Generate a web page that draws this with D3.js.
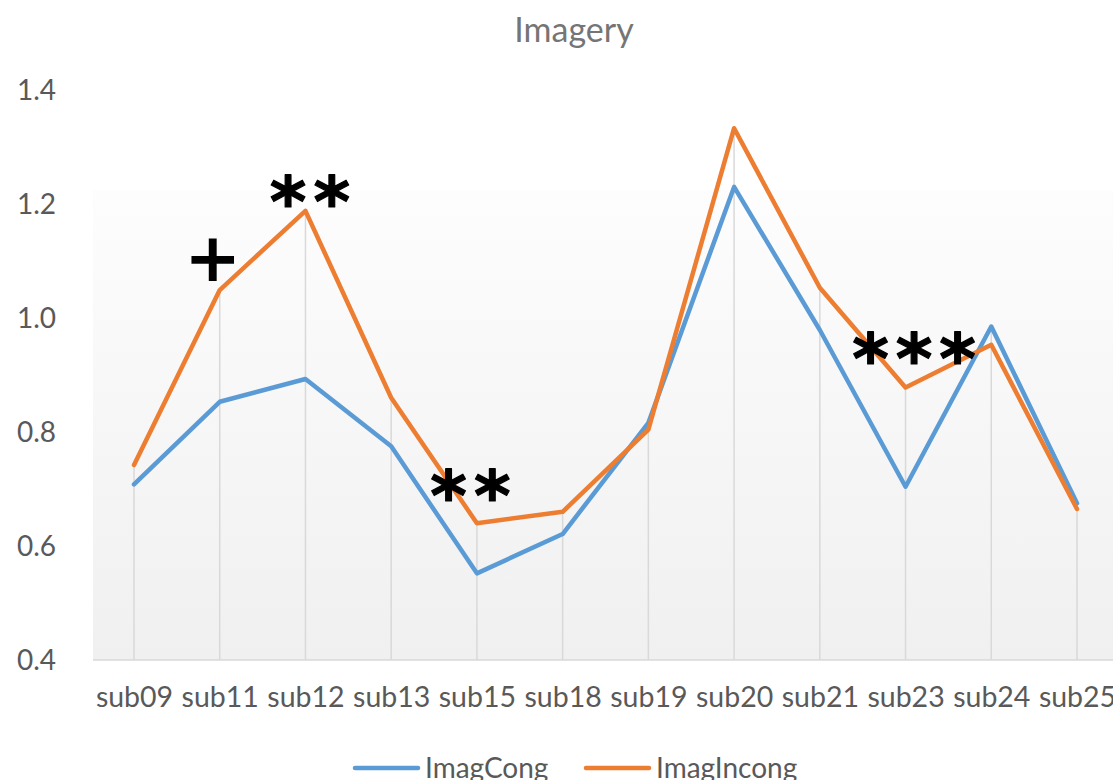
<!DOCTYPE html>
<html><head><meta charset="utf-8">
<script src="https://cdn.jsdelivr.net/npm/d3@7"></script>
<style>html,body{margin:0;padding:0;background:#fff;}svg{display:block;}</style>
</head><body>
<svg id="chart" width="1113" height="780"></svg>
<script>
const categories = ["sub09","sub11","sub12","sub13","sub15","sub18","sub19","sub20","sub21","sub23","sub24","sub25"];
const imagCong   = [0.708,0.853,0.893,0.775,0.552,0.621,0.816,1.230,0.979,0.704,0.985,0.675];
const imagIncong = [0.742,1.049,1.188,0.860,0.640,0.660,0.804,1.333,1.053,0.878,0.953,0.665];
const yTicks = [0.4,0.6,0.8,1.0,1.2,1.4];
const seriesNames = ["ImagCong","ImagIncong"];
const seriesColors = ["#5b9bd5","#ed7d31"];
const annotations = [
  {cat:"sub11", value:1.107, text:"+", dx:-7},
  {cat:"sub12", value:1.223, text:"**", dx:8},
  {cat:"sub15", value:0.707, text:"**", dx:-3},
  {cat:"sub23", value:0.947, text:"***", dx:12}
];

const svg = d3.select("#chart");
const x = d3.scalePoint().domain(categories).range([134,1077]);
const y = d3.scaleLinear().domain([0.4,1.4]).range([660,90]);

const defs = svg.append("defs");
const grad = defs.append("linearGradient").attr("id","bg").attr("x1",0).attr("y1",0).attr("x2",0).attr("y2",1);
grad.append("stop").attr("offset","0").attr("stop-color","#fdfdfd");
grad.append("stop").attr("offset","1").attr("stop-color","#f0f0f0");
svg.append("rect").attr("x",93).attr("y",y(1.224)).attr("width",1113-93).attr("height",660-y(1.224)).attr("fill","url(#bg)");

// title
svg.append("text").attr("x",574).attr("y",42).attr("text-anchor","middle")
  .attr("font-family","Lato, 'Open Sans', sans-serif").attr("font-size",34).attr("fill","#757575").text("Imagery");

// y axis labels
const yAxis = d3.axisLeft(y).tickValues(yTicks).tickFormat(d3.format(".1f")).tickSize(0).tickPadding(0);
const gy = svg.append("g").attr("transform","translate(56,0)").call(yAxis);
gy.select(".domain").remove();
gy.selectAll("text").attr("font-family","Lato, 'Open Sans', sans-serif").attr("font-size",28).attr("fill","#595959").attr("dy","0.35em");

// drop lines
const maxVals = categories.map((c,i)=>Math.max(imagCong[i],imagIncong[i]));
svg.append("g").selectAll("line").data(categories).join("line")
  .attr("x1",d=>x(d)).attr("x2",d=>x(d))
  .attr("y1",(d,i)=>y(maxVals[i])).attr("y2",y(0.4))
  .attr("stroke","#d9d9d9").attr("stroke-width",1.5);

// x axis
const xAxis = d3.axisBottom(x).tickSize(0).tickPadding(0);
const gx = svg.append("g").attr("transform",`translate(0,${y(0.4)})`).call(xAxis);
gx.select(".domain").remove();
svg.append("line").attr("x1",93).attr("x2",1113).attr("y1",y(0.4)).attr("y2",y(0.4)).attr("stroke","#d9d9d9").attr("stroke-width",1.5);
gx.selectAll("text").attr("font-family","Lato, 'Open Sans', sans-serif").attr("font-size",28.5).attr("fill","#595959").attr("dy",0).attr("y",47);

// lines
const line = d3.line().x((d,i)=>x(categories[i])).y(d=>y(d));
[imagCong, imagIncong].forEach((s,k)=>{
  svg.append("path").datum(s).attr("d",line).attr("fill","none")
    .attr("stroke",seriesColors[k]).attr("stroke-width",4.5).attr("stroke-linejoin","round").attr("stroke-linecap","round");
});

// annotations
svg.append("g").selectAll("text").data(annotations).join("text")
  .attr("x",d=>x(d.cat)+d.dx).attr("y",d=>y(d.value))
  .attr("text-anchor","middle")
  .attr("font-family","'DejaVu Sans', sans-serif").attr("font-weight","bold")
  .attr("font-size",d=>d.text==="+"?68:70)
  .attr("letter-spacing",d=>d.text==="+"?0:7)
  .attr("dy",d=>d.text==="+"?"0.36em":"0.5em")
  .attr("stroke","#000").attr("stroke-width",d=>d.text==="+"?0:1.2).attr("stroke-linejoin","round")
  .attr("fill","#000").text(d=>d.text);

// legend
const legend = svg.append("g");
const legX = [355,586];
seriesNames.forEach((n,k)=>{
  legend.append("line").attr("x1",legX[k]).attr("x2",legX[k]+63).attr("y1",768).attr("y2",768)
    .attr("stroke",seriesColors[k]).attr("stroke-width",4.5).attr("stroke-linecap","round");
  legend.append("text").attr("x",legX[k]+70).attr("y",778)
    .attr("font-family","Lato, 'Open Sans', sans-serif").attr("font-size",28).attr("fill","#595959").text(n);
});
</script>
</body></html>
